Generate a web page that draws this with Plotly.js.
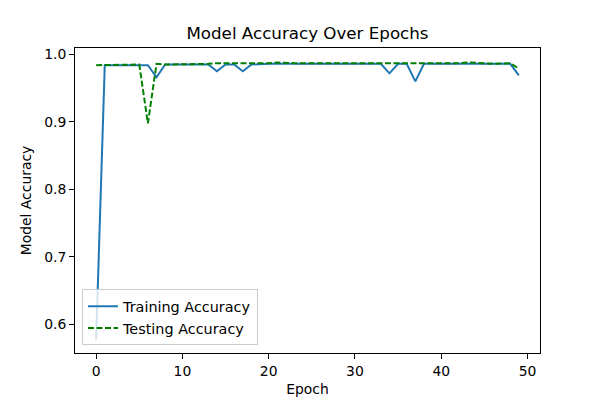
<!DOCTYPE html>
<html>
<head>
<meta charset="utf-8">
<script src="https://cdn.plot.ly/plotly-3.0.1.min.js"></script>
<style>html,body{margin:0;padding:0;background:#fff;}#chart{width:600px;height:398px;}</style>
</head>
<body>
<div id="chart"></div>
<script>
const epochs = Array.from({length: 50}, (_, i) => i);
const trainingAccuracy = [
  0.577, 0.984, 0.984, 0.984, 0.984, 0.984, 0.984, 0.966, 0.985, 0.985,
  0.985, 0.985, 0.985, 0.985, 0.975, 0.985, 0.985, 0.975, 0.985, 0.986,
  0.986, 0.986, 0.986, 0.986, 0.986, 0.986, 0.986, 0.986, 0.986, 0.986,
  0.986, 0.986, 0.986, 0.986, 0.972, 0.986, 0.986, 0.960, 0.986, 0.986,
  0.986, 0.986, 0.986, 0.986, 0.986, 0.986, 0.986, 0.986, 0.986, 0.969
];
const testingAccuracy = [
  0.984, 0.984, 0.984, 0.984, 0.984, 0.985, 0.898, 0.986, 0.985, 0.985,
  0.986, 0.986, 0.986, 0.986, 0.987, 0.987, 0.986, 0.986, 0.986, 0.986,
  0.987, 0.988, 0.987, 0.987, 0.987, 0.987, 0.987, 0.986, 0.986, 0.987,
  0.987, 0.987, 0.987, 0.987, 0.987, 0.987, 0.987, 0.987, 0.986, 0.986,
  0.987, 0.987, 0.987, 0.988, 0.988, 0.987, 0.986, 0.986, 0.987, 0.979
];
const F = 'DejaVu Sans, sans-serif';
const traces = [
  {x: epochs, y: trainingAccuracy, type: 'scatter', mode: 'lines', name: 'Training Accuracy',
   line: {color: '#1f77b4', width: 2}},
  {x: epochs, y: testingAccuracy, type: 'scatter', mode: 'lines', name: 'Testing Accuracy',
   line: {color: 'green', width: 2, dash: '6px,2.5px'}}
];
const axisCommon = {
  showline: true, mirror: true, linecolor: 'black', linewidth: 1,
  ticks: 'outside', ticklen: 5, tickwidth: 1, tickcolor: 'black',
  showgrid: false, zeroline: false,
  tickfont: {family: F, size: 13.9, color: 'black'}
};
const layout = {
  width: 600, height: 398,
  margin: {l: 75, r: 60, t: 48, b: 45},
  paper_bgcolor: 'white', plot_bgcolor: 'white',
  title: {text: 'Model Accuracy Over Epochs', font: {family: F, size: 16.7, color: 'black'},
          x: 0.5, xref: 'paper', y: 1 - 33/398, yref: 'container', yanchor: 'middle'},
  xaxis: Object.assign({}, axisCommon, {
    range: [-2.45, 51.45], tickmode: 'linear', tick0: 0, dtick: 10,
    title: {text: 'Epoch', font: {family: F, size: 13.9, color: 'black'}, standoff: 6}
  }),
  yaxis: Object.assign({}, axisCommon, {
    range: [0.5575, 1.0095], tickmode: 'linear', tick0: 0.6, dtick: 0.1, tickformat: '.1f',
    title: {text: 'Model Accuracy', font: {family: F, size: 13.9, color: 'black'}, standoff: 9}
  }),
  showlegend: true,
  legend: {x: 0.015, y: 0.025, xanchor: 'left', yanchor: 'bottom',
           bgcolor: 'rgba(255,255,255,0.8)', bordercolor: '#cccccc', borderwidth: 1,
           font: {family: F, size: 14.4, color: 'black'}, tracegroupgap: 0}
};
Plotly.newPlot('chart', traces, layout, {staticPlot: true, displayModeBar: false});
</script>
</body>
</html>
